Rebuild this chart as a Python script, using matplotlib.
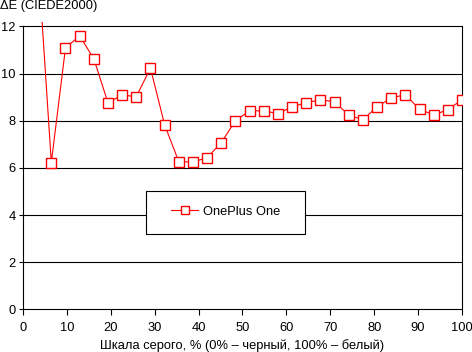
import matplotlib
matplotlib.use('Agg')
import matplotlib.pyplot as plt
from matplotlib.patches import Rectangle

plt.rcParams['font.family'] = ['Liberation Sans', 'DejaVu Sans']
plt.rcParams['font.size'] = 9.3

# grey level, % (32 steps from 0 to 100, first one off the chart)
gray_steps = [i * 100 / 31 for i in range(1, 32)]
delta_e = [15.4, 6.22, 11.09, 11.6, 10.63, 8.76, 9.09, 9.02, 10.23, 7.83,
           6.26, 6.25, 6.43, 7.07, 8.0, 8.42, 8.42, 8.30, 8.59, 8.76,
           8.89, 8.80, 8.24, 8.04, 8.59, 8.97, 9.10, 8.49, 8.24, 8.47, 8.89]
series_name = 'OnePlus One'
x_ticks = list(range(0, 101, 10))
y_ticks = list(range(0, 13, 2))

fig = plt.figure(figsize=(4.72, 3.52), dpi=100)
ax = fig.add_axes([23 / 472, 1 - 309.3 / 352, 439 / 472, (309.3 - 21.7) / 352])

ax.set_xlim(0, 100)
ax.set_ylim(0, 12.2)

# horizontal grid lines
for yv in y_ticks[1:]:
    ax.axhline(yv, color='black', lw=0.8, zorder=1)

ax.plot(gray_steps, delta_e, color='#ff0000', lw=0.8, marker='s', ms=6.5,
        mfc='white', mec='#ff0000', mew=1.0, label=series_name, zorder=3)

ax.spines['top'].set_visible(False)
for side in ['left', 'right', 'bottom']:
    ax.spines[side].set_linewidth(0.8)
    ax.spines[side].set_color('black')
ax.spines['left'].set_bounds(0, 12)
ax.spines['right'].set_bounds(0, 12)

ax.set_xticks(x_ticks)
ax.set_yticks(y_ticks)
ax.tick_params(direction='out', length=4, width=0.8, colors='black', pad=5)
ax.tick_params(axis='y', length=3, pad=2.2)

# legend box
ax.add_patch(Rectangle((28.0, 3.18), 36.2, 1.84, facecolor='white',
                       edgecolor='black', lw=0.8, zorder=4))
leg = ax.legend(loc='center', bbox_to_anchor=(46.2, 4.14),
                bbox_transform=ax.transData, frameon=False, handlelength=2.1,
                handletextpad=0.35, borderpad=0)
leg.set_zorder(5)
for h in leg.legend_handles:
    h.set_markersize(6)

fig.text(0.0, 1 - 9.5 / 352, 'ΔE (CIEDE2000)', ha='left', va='baseline')
fig.text(242 / 472, 1 - 349 / 352, 'Шкала серого, % (0% – черный, 100% – белый)',
         ha='center', va='baseline')

fig.savefig('out.png', dpi=100)
